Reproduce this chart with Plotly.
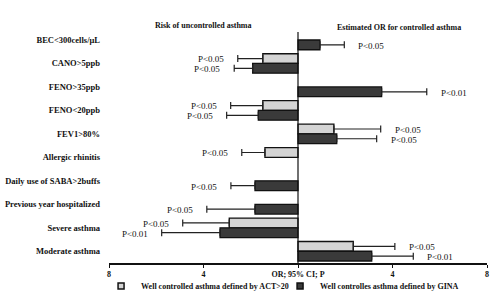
import plotly.graph_objects as go

categories = ["BEC<300cells/μL", "CANO>5ppb", "FENO>35ppb", "FENO<20ppb", "FEV1>80%",
              "Allergic rhinitis", "Daily use of SABA>2buffs", "Previous year hospitalized",
              "Severe asthma", "Moderate asthma"]

# Signed OR (negative = risk of uncontrolled asthma, plotted to the left)
act_or = [None, -1.49, None, -1.49, 1.52, -1.40, None, None, -2.91, 2.34]
act_ci = [None, -2.55, None, -2.85, 3.50, -2.38, None, None, -4.88, 4.10]
act_p = [None, "P<0.05", None, "P<0.05", "P<0.05", "P<0.05", None, None, "P<0.05", "P<0.05"]

gina_or = [0.93, -1.92, 3.54, -1.68, 1.64, None, -1.82, -1.82, -3.30, 3.12]
gina_ci = [1.96, -2.70, 5.45, -3.02, 3.33, None, -2.84, -3.86, -5.77, 4.88]
gina_p = ["P<0.05", "P<0.05", "P<0.01", "P<0.05", "P<0.05", None, "P<0.05", "P<0.05", "P<0.01", "P<0.01"]

series_names = ["Well controlled asthma defined by ACT>20", "Well controlles asthma defined by GINA"]
series_colors = ["#d4d4d4", "#3a3a3a"]

tick_vals = [-8, -4, 0, 4, 8]
tick_text = ["8", "4", "OR; 95% CI; P", "4", "8"]

FONT = "Liberation Serif"


def err_plus(ors, cis):
    return [(c - o) if (o is not None and o > 0) else 0 for o, c in zip(ors, cis)]


def err_minus(ors, cis):
    return [(o - c) if (o is not None and o < 0) else 0 for o, c in zip(ors, cis)]


fig = go.Figure()
for ors, cis, name, col in ((act_or, act_ci, series_names[0], series_colors[0]),
                            (gina_or, gina_ci, series_names[1], series_colors[1])):
    fig.add_trace(go.Bar(
        y=categories, x=ors, orientation="h", name=name, showlegend=False,
        legendgroup=name,
        marker=dict(color=col, line=dict(color="#111111", width=1.3)),
        error_x=dict(type="data", symmetric=False, array=err_plus(ors, cis),
                     arrayminus=err_minus(ors, cis), color="#222222",
                     thickness=1.2, width=3.5),
    ))
# small square legend keys
for name, col in zip(series_names, series_colors):
    fig.add_trace(go.Scatter(
        x=[None], y=[None], mode="markers", name=name, legendgroup=name,
        marker=dict(symbol="square", size=6, color=col, line=dict(color="#111111", width=1.5)),
        hoverinfo="skip",
    ))

annotations = []
for cis, ps, ysh in ((act_ci, act_p, 4), (gina_ci, gina_p, -6)):
    for cat, c, p in zip(categories, cis, ps):
        if p is None:
            continue
        annotations.append(dict(
            x=c, y=cat, xref="x", yref="y", text=p, showarrow=False,
            xanchor="left" if c > 0 else "right",
            xshift=12 if c > 0 else -12, yshift=ysh,
            font=dict(family=FONT, size=9, color="#111111"),
        ))

annotations.append(dict(x=-4, y=1, xref="x", yref="paper", yshift=1.5,
                        text="<b>Risk of uncontrolled asthma</b>", showarrow=False,
                        xanchor="center", yanchor="middle",
                        font=dict(family=FONT, size=8, color="#111111")))
annotations.append(dict(x=4.27, y=1, xref="x", yref="paper", yshift=0,
                        text="<b>Estimated OR for controlled asthma</b>", showarrow=False,
                        xanchor="center", yanchor="middle",
                        font=dict(family=FONT, size=8, color="#111111")))

fig.update_layout(
    width=500, height=297,
    margin=dict(l=109, r=13, t=27, b=34, autoexpand=False),
    paper_bgcolor="white", plot_bgcolor="white",
    barmode="group", bargap=0.17, bargroupgap=0,
    font=dict(family=FONT, size=8.5, color="#111111"),
    annotations=annotations,
    shapes=[dict(type="line", xref="x", yref="paper", x0=0, x1=0, y0=0, y1=0.979,
                 line=dict(color="#111111", width=1.2))],
    showlegend=True,
    legend=dict(orientation="h", x=-0.021, y=-0.097, xanchor="left", yanchor="middle",
                font=dict(family=FONT, size=8, color="#111111", weight="bold"),
                itemwidth=30, entrywidth=134, tracegroupgap=0,
                bgcolor="rgba(0,0,0,0)"),
)
fig.update_xaxes(range=[-8, 8], tickvals=tick_vals, ticktext=tick_text,
                 showgrid=False, zeroline=False, showline=True, linecolor="#111111",
                 linewidth=1.5, ticks="outside", ticklen=3, tickcolor="#111111",
                 tickfont=dict(family=FONT, size=8, color="#111111", weight="bold"))
fig.update_yaxes(autorange="reversed", showgrid=False, zeroline=False, showline=False,
                 ticks="", ticklabelstandoff=8,
                 tickfont=dict(family=FONT, size=8.5, color="#111111", weight="bold"))

fig.write_html("out.html", config={"displayModeBar": False},
               post_script="document.body.style.margin='0';")
